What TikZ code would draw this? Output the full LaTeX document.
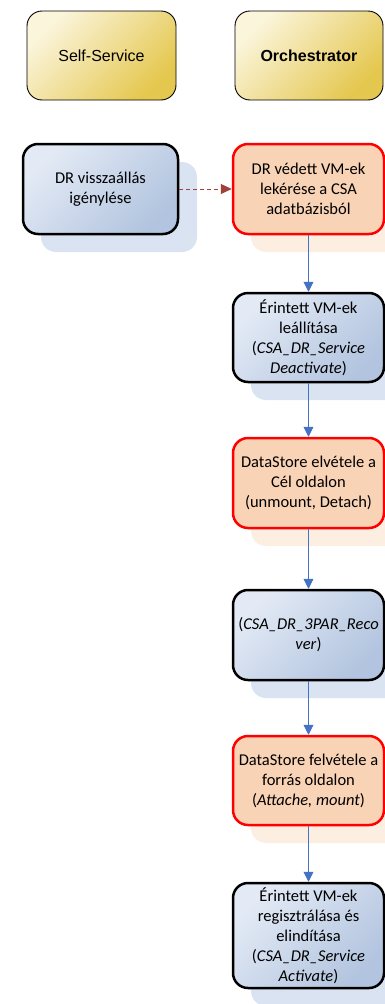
\documentclass[tikz,border=0pt]{standalone}
\usepackage{fontspec}
\setmainfont{Carlito}
\newfontfamily\arialf{Liberation Sans}
\usetikzlibrary{arrows.meta,positioning}
\definecolor{goldL}{HTML}{FBF5DC}
\definecolor{goldD}{HTML}{E4C74E}
\definecolor{blueL}{HTML}{E3EAF5}
\definecolor{blueD}{HTML}{B2C4DF}
\definecolor{blueS}{HTML}{DAE3F1}
\definecolor{orF}{HTML}{F9D3B5}
\definecolor{orS}{HTML}{FDEEE2}
\definecolor{arrB}{HTML}{4472C4}
\definecolor{arrR}{HTML}{A0413A}
\definecolor{redB}{HTML}{FF0000}
\tikzset{
  box/.style={rounded corners=15pt, align=center, inner sep=2pt,
    font=\fontsize{16.5}{20}\selectfont},
  header/.style={box, draw=black, line width=0.9pt, top color=goldL, bottom color=goldD, shading angle=45,
    minimum height=89pt, font=\arialf\fontsize{16}{19}\selectfont},
  bluebox/.style={box, draw=black, line width=2.5pt, top color=blueL, bottom color=blueD, shading angle=45},
  orbox/.style={box, draw=redB, line width=2.5pt, fill=orF},
  bshadow/.style={fill=blueS, rounded corners=15pt},
  oshadow/.style={fill=orS, rounded corners=15pt},
  flow/.style={draw=arrB, line width=0.9pt, -{Triangle[width=10pt,length=10pt]}},
  dflow/.style={draw=arrR, line width=0.9pt, dashed, dash pattern=on 4pt off 3pt, -{Triangle[width=10pt,length=11pt]}}
}
\begin{document}
\begin{tikzpicture}[x=1pt,y=-1pt]
\useasboundingbox (0,0) rectangle (385,1004);
% shadows
\fill[bshadow] (41,162) rectangle (197,252);
\fill[oshadow] (251,162) rectangle (402,252);
\fill[bshadow] (251,311) rectangle (402,400);
\fill[oshadow] (251,456) rectangle (402,546);
\fill[bshadow] (251,608) rectangle (402,698);
\fill[oshadow] (251,754) rectangle (402,843);
\fill[bshadow] (251,901) rectangle (402,1006);
% headers
\node[header, minimum width=149pt] (ss) at (101.5,55.5) {Self-Service};
\node[header, minimum width=148pt] (orch) at (309,55.5) {\bfseries Orchestrator};
% boxes
\node[bluebox, minimum width=155pt, minimum height=90pt] (req) at (100.5,189) {DR visszaállás\\igénylése};
\node[orbox, minimum width=151pt, minimum height=90pt] (n1) at (308.5,189) {DR védett VM-ek\\lekérése a CSA\\adatbázisból};
\node[bluebox, minimum width=151pt, minimum height=89pt] (n2) at (308.5,337.5) {Érintett VM-ek\\leállítása\\(\textit{CSA\_DR\_Service}\\\textit{Deactivate})};
\node[orbox, minimum width=151pt, minimum height=90pt] (n3) at (308.5,483) {DataStore elvétele a\\Cél oldalon\\(unmount, Detach)};
\node[bluebox, minimum width=151pt, minimum height=90pt] (n4) at (308.5,635) {(\textit{CSA\_DR\_3PAR\_Reco}\\\textit{ver})};
\node[orbox, minimum width=151pt, minimum height=89pt] (n5) at (308.5,780.5) {DataStore felvétele a\\forrás oldalon\\(\textit{Attache, mount})};
\node[bluebox, minimum width=151pt, minimum height=105pt] (n6) at (308.5,935.5) {Érintett VM-ek\\regisztrálása és\\elindítása\\(\textit{CSA\_DR\_Service}\\\textit{Activate})};
% connectors
\draw[dflow] (req.east) -- (n1.west);
\draw[flow] (n1) -- (n2);
\draw[flow] (n2) -- (n3);
\draw[flow] (n3) -- (n4);
\draw[flow] (n4) -- (n5);
\draw[flow] (n5) -- (n6);
\end{tikzpicture}
\end{document}
